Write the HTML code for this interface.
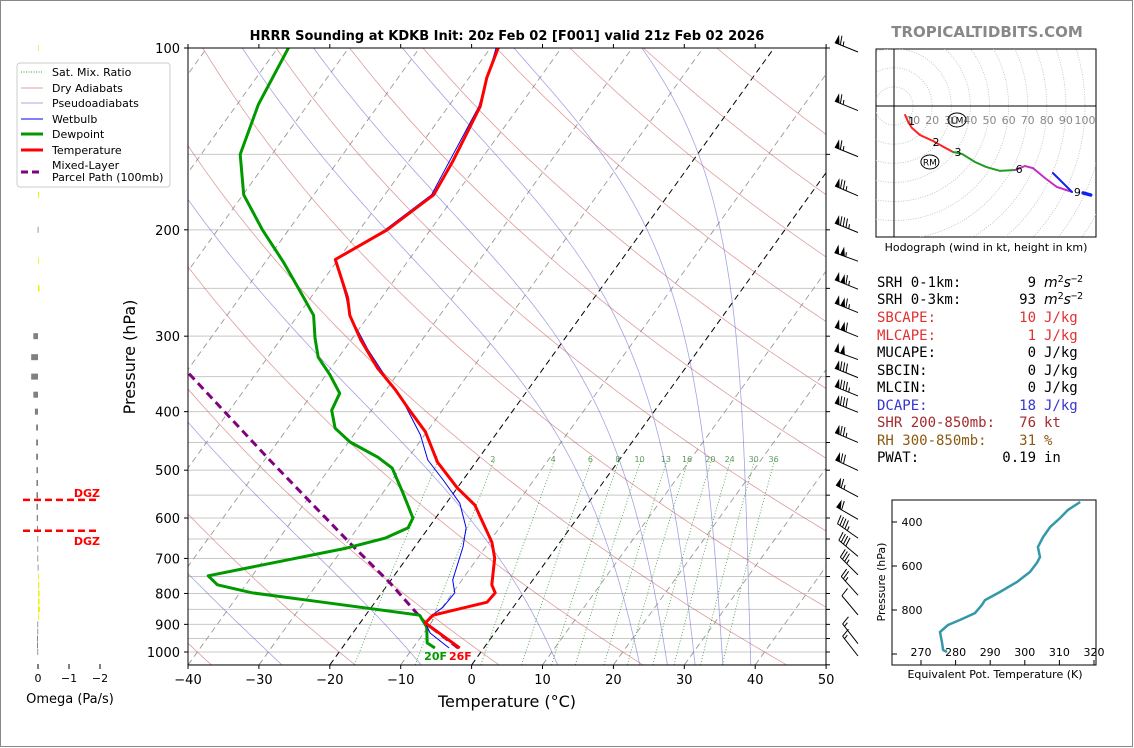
<!DOCTYPE html>
<html><head><meta charset="utf-8">
<style>
html,body{margin:0;padding:0;background:#fff;}
svg{display:block;font-family:"DejaVu Sans","Liberation Sans",sans-serif;}
.mono{font-family:"DejaVu Sans Mono","Liberation Mono",monospace;font-size:14px;}
</style></head>
<body>
<svg id="fig" width="1134" height="748" viewBox="0 0 1134 748" xmlns="http://www.w3.org/2000/svg">
<rect x="0.5" y="0.5" width="1132" height="746" fill="#fff" stroke="#888"/>
<defs>
<clipPath id="mainClip"><rect x="188" y="48" width="638" height="617"/></clipPath>
<clipPath id="hodoClip"><rect x="876" y="49" width="220" height="188"/></clipPath>
<clipPath id="theClip"><rect x="892" y="500" width="204" height="165"/></clipPath>
</defs>
<text x="507" y="40" text-anchor="middle" font-size="13" font-weight="bold">HRRR Sounding at KDKB Init: 20z Feb 02 [F001] valid 21z Feb 02 2026</text>
<text x="987" y="37" text-anchor="middle" font-size="15" font-weight="bold" fill="#888">TROPICALTIDBITS.COM</text>
<g id="bg" clip-path="url(#mainClip)"></g>
<g id="series" clip-path="url(#mainClip)"></g>
<rect x="188" y="48" width="638" height="617" fill="none" stroke="#000" stroke-width="1"/>
<g id="axes"></g>
<text x="0" y="0" transform="translate(135,357) rotate(-90)" text-anchor="middle" font-size="16">Pressure (hPa)</text>
<text x="507" y="707" text-anchor="middle" font-size="16">Temperature (°C)</text>
<text x="447" y="660" text-anchor="end" font-size="11" font-weight="bold" fill="#009900">20F</text>
<text x="449" y="660" font-size="11" font-weight="bold" fill="#ff0000">26F</text>
<g id="barbs"></g>
<g id="omega"></g>
<text x="70" y="703" text-anchor="middle" font-size="13">Omega (Pa/s)</text>
<g>
<rect x="17" y="63" width="153" height="124" rx="3" fill="#fff" stroke="#ccc"/>
<line x1="21" y1="72" x2="43" y2="72" stroke="#3a9a3a" stroke-dasharray="1,1.5"/>
<text x="52" y="76" font-size="11">Sat. Mix. Ratio</text>
<line x1="21" y1="88" x2="43" y2="88" stroke="#d9a3a3"/>
<text x="52" y="92" font-size="11">Dry Adiabats</text>
<line x1="21" y1="103" x2="43" y2="103" stroke="#a8a8dd"/>
<text x="52" y="107" font-size="11">Pseudoadiabats</text>
<line x1="21" y1="119" x2="43" y2="119" stroke="#0000ee"/>
<text x="52" y="123" font-size="11">Wetbulb</text>
<line x1="21" y1="134" x2="43" y2="134" stroke="#009900" stroke-width="3"/>
<text x="52" y="138" font-size="11">Dewpoint</text>
<line x1="21" y1="150" x2="43" y2="150" stroke="#ff0000" stroke-width="3"/>
<text x="52" y="154" font-size="11">Temperature</text>
<line x1="21" y1="172" x2="43" y2="172" stroke="#800080" stroke-width="3" stroke-dasharray="7,4"/>
<text x="52" y="169" font-size="11">Mixed-Layer</text>
<text x="52" y="181" font-size="11">Parcel Path (100mb)</text>
</g>
<g id="hodo"></g>
<text x="986" y="251" text-anchor="middle" font-size="11">Hodograph (wind in kt, height in km)</text>
<g class="mono">
<text x="877" y="287">SRH 0-1km:</text>
<text x="1036" y="287" text-anchor="end">9</text>
<text x="1044" y="287"><tspan font-style="italic" font-family="DejaVu Sans,sans-serif">m</tspan><tspan dy="-5" font-size="10">2</tspan><tspan dy="5" font-style="italic" font-family="DejaVu Sans,sans-serif">s</tspan><tspan dy="-5" font-size="10">−2</tspan></text>
<text x="877" y="304">SRH 0-3km:</text>
<text x="1036" y="304" text-anchor="end">93</text>
<text x="1044" y="304"><tspan font-style="italic" font-family="DejaVu Sans,sans-serif">m</tspan><tspan dy="-5" font-size="10">2</tspan><tspan dy="5" font-style="italic" font-family="DejaVu Sans,sans-serif">s</tspan><tspan dy="-5" font-size="10">−2</tspan></text>
<text x="877" y="322" fill="#e03030">SBCAPE:</text>
<text x="1036" y="322" text-anchor="end" fill="#e03030">10</text>
<text x="1044" y="322" fill="#e03030">J/kg</text>
<text x="877" y="340" fill="#e03030">MLCAPE:</text>
<text x="1036" y="340" text-anchor="end" fill="#e03030">1</text>
<text x="1044" y="340" fill="#e03030">J/kg</text>
<text x="877" y="357">MUCAPE:</text>
<text x="1036" y="357" text-anchor="end">0</text>
<text x="1044" y="357">J/kg</text>
<text x="877" y="375">SBCIN:</text>
<text x="1036" y="375" text-anchor="end">0</text>
<text x="1044" y="375">J/kg</text>
<text x="877" y="392">MLCIN:</text>
<text x="1036" y="392" text-anchor="end">0</text>
<text x="1044" y="392">J/kg</text>
<text x="877" y="410" fill="#3535d0">DCAPE:</text>
<text x="1036" y="410" text-anchor="end" fill="#3535d0">18</text>
<text x="1044" y="410" fill="#3535d0">J/kg</text>
<text x="877" y="427" fill="#a52a2a">SHR 200-850mb:</text>
<text x="1036" y="427" text-anchor="end" fill="#a52a2a">76</text>
<text x="1044" y="427" fill="#a52a2a">kt</text>
<text x="877" y="445" fill="#8b5a10">RH 300-850mb:</text>
<text x="1036" y="445" text-anchor="end" fill="#8b5a10">31</text>
<text x="1044" y="445" fill="#8b5a10">%</text>
<text x="877" y="462">PWAT:</text>
<text x="1036" y="462" text-anchor="end">0.19</text>
<text x="1044" y="462">in</text>
</g>
<g id="thetae"></g>
<text x="0" y="0" transform="translate(885,582) rotate(-90)" text-anchor="middle" font-size="11">Pressure (hPa)</text>
<text x="995" y="678" text-anchor="middle" font-size="11">Equivalent Pot. Temperature (K)</text>
</svg>
<script>
// ---- Sounding data ----
const tempP = [985,895,869,827,798,774,699,658,571,535,485,432,398,368,339,304,277,259,224,200,175,154,125,112,100];
const tempT = [-3.4,-10.8,-10.5,-4.2,-4.0,-5.3,-7.6,-9.6,-15.8,-20.0,-25.4,-30.2,-34.6,-38.7,-43.4,-48.7,-52.7,-54.8,-60.4,-56.1,-53.1,-53.8,-55.5,-57.5,-58.9];
const dewP = [985,966,909,869,827,798,774,748,673,648,623,600,546,496,476,449,426,398,373,348,325,302,277,252,226,200,175,150,124,100];
const dewT = [-6.9,-8.5,-10.2,-12.4,-27.4,-38.3,-44.0,-46.2,-29.5,-25.1,-22.9,-23.2,-27.1,-31.2,-34.3,-39.8,-43.3,-45.6,-46.2,-49.4,-52.9,-55.3,-57.8,-62.3,-67.5,-73.7,-79.9,-84.5,-87.0,-88.5];
const wbP = [985,930,895,875,843,798,760,670,623,567,519,481,437,390,360,316,277,259,224,200,175,125,100];
const wbT = [-4.9,-9.1,-10.8,-10.8,-9.9,-9.7,-11.3,-13.2,-14.7,-18.1,-22.8,-27.0,-30.6,-35.8,-40.0,-46.6,-52.7,-55.0,-60.4,-56.4,-53.4,-55.7,-59.2];
const parcelP = [985,895,769,668,481,344,300];
const parcelT = [-3.6,-10.8,-19.8,-28.8,-49.3,-69.8,-76.5];
// wind barbs
const barbP = [100,125,149,173,199,222,247,270,296,323,346,371,395,443,493,545,594,638,684,734,793,855,954,1000];
const barbSpd = [65,65,65,75,85,105,115,115,110,100,80,85,80,75,70,65,60,45,40,35,25,10,15,15];
const barbDir = [292,292,292,293,292,290,292,292,292,290,292,292,292,293,295,298,300,305,310,315,318,320,322,322];
// omega
const omegaP = [100,150,175,200,225,250,300,325,350,375,400,425,450,475,500,525,550,575,600,625,650,675,700,725,750,775,800,825,850,875,900,925,950,975,1000];
const omegaV = [-0.02,-0.02,-0.03,0.01,-0.02,-0.05,0.15,0.22,0.22,0.15,0.10,0.06,0.06,0.06,0.05,0.05,0.05,0.05,0.04,0.03,0.02,0.02,0.02,0.01,-0.03,-0.04,-0.05,-0.05,-0.06,-0.01,0.02,0.02,0.03,0.03,0.02];
const dgzP = [560,630];
// hodograph (kt)
const hodoRedU = [5.8,7.5,9.4,13.6,20.4,26.2,30.9];
const hodoRedV = [-4.7,-8.5,-11.5,-15.2,-18.3,-21.5,-24.1];
const hodoGreenU = [30.9,35.6,42.4,48.2,55.5,63.4];
const hodoGreenV = [-24.1,-25.1,-29.3,-31.9,-34.0,-33.5];
const hodoMagU = [63.4,68.6,72.8,79.0,85.3,93.2];
const hodoMagV = [-33.5,-31.4,-32.5,-37.7,-42.4,-45.0];
const hodoBlueU = [83.2,93.2];
const hodoBlueV = [-35.1,-45.0];
const hodoBlue2U = [99.0,103.0];
const hodoBlue2V = [-45.5,-46.6];
const hodoLabels = ["1","2","3","6","9"];
const hodoLabU = [9.2,22.0,33.5,65.5,96.0];
const hodoLabV = [-7.9,-18.8,-24.0,-33.0,-45.0];
const stormNames = ["LM","RM"];
const stormU = [33.0,18.8];
const stormV = [-7.3,-29.3];
// theta-e
const theP = [309,345,382,423,468,514,559,586,627,673,718,755,777,814,845,868,900,950,982,991];
const theV = [316.0,312.5,310.2,307.3,305.3,303.8,304.4,303.5,301.5,297.7,292.8,288.5,287.6,285.6,281.3,277.8,275.5,276.1,276.4,277.5];
// ticks
const pTicks = [100,200,300,400,500,600,700,800,900,1000];
const tTicks = [-40,-30,-20,-10,0,10,20,30,40,50];
const mixW = [1,2,4,6,8,10,13,16,20,24,30,36];
const mixShown = ["1","2","4","6","8","10","13","16","20","24","30","36"];
const dryTheta = [-60,-40,-20,0,20,40,60,80,100,120,140,160,180,200];
const moistTw = [-50,-30,-10,10,22,26,30,34,38];

const NS="http://www.w3.org/2000/svg";
function mk(tag,attrs,parent){const e=document.createElementNS(NS,tag);for(const k in attrs)e.setAttribute(k,attrs[k]);parent.appendChild(e);return e;}
const Y=p=>48+604*Math.log10(p/100);
const X=(T,p)=>188+(T+40)*7.09+(665-Y(p))*0.72;
const pathFrom=(pts)=>pts.map((q,i)=>(i?'L':'M')+q[0].toFixed(1)+','+q[1].toFixed(1)).join(' ');

const bg=document.getElementById('bg');
for(let p=100;p<=1050;p+=50){
  const l=mk('line',{x1:188,x2:826,y1:Y(p),y2:Y(p),stroke:'#c8c8c8','stroke-width':1},bg);
  
  
}
for(let t=-130;t<=50;t+=10){
  const hl=(t===0||t===-20);
  const l=mk('line',{x1:X(t,1050),y1:Y(1050),x2:X(t,100),y2:Y(100),stroke:hl?'#000':'#999','stroke-width':hl?1:0.9,'stroke-dasharray':'6,4'},bg);
  
  
}
dryTheta.forEach(t0=>{
  const pts=[];for(let p=1050;p>=100;p-=10){const T=(t0+273.15)*Math.pow(p/1000,0.2857)-273.15;pts.push([X(T,p),Y(p)]);}
  const l=mk('path',{d:pathFrom(pts),fill:'none',stroke:'rgba(205,90,90,0.6)','stroke-width':0.8},bg);
  
  
});
const Rd=287.04,cp=1005.7,Lv=2.501e6,eps=0.622;
const es=Tc=>6.112*Math.exp(17.67*Tc/(Tc+243.5));
const dTdp=(T,p)=>{const e=es(T-273.15);const rs=eps*e/Math.max(p-e,1);return (Rd*T+Lv*rs)/(cp+Lv*Lv*rs*eps/(Rd*T*T))/p;};
function integ(T0,p0,p1,h){const pts=[];let T=T0;for(let p=p0;(h<0?p>=p1:p<=p1);p+=h){pts.push([T,p]);const k1=dTdp(T,p);const k2=dTdp(T+h*k1,p+h);T+=h*(k1+k2)/2;}return pts;}
moistTw.forEach(t0=>{
  const up=integ(t0+273.15,1000,100,-5);
  const dn=integ(t0+273.15,1000,1050,5).reverse();
  const all=dn.concat(up.slice(1)).map(q=>[X(q[0]-273.15,q[1]),Y(q[1])]);
  const l=mk('path',{d:pathFrom(all),fill:'none',stroke:'rgba(90,90,205,0.55)','stroke-width':0.8},bg);
  
  
});
const tdFromE=e=>{const a=Math.log(e/6.112);return 243.5*a/(17.67-a);};
mixW.forEach((w,i)=>{
  const pts=[];for(let p=1050;p>=480;p-=10){const e=(w/1000)*p/(eps+w/1000);pts.push([X(tdFromE(e),p),Y(p)]);}
  const l=mk('path',{d:pathFrom(pts),fill:'none',stroke:'#3a9a3a','stroke-width':0.8,'stroke-dasharray':'1,2'},bg);
  
  
  if(mixShown[i]){const pl=488;const e=(w/1000)*pl/(eps+w/1000);
    const t=mk('text',{x:X(tdFromE(e),pl),y:Y(pl)-2,'text-anchor':'middle','font-size':8,fill:'#5a9a5a'},bg);t.textContent=mixShown[i];
    
    }
});
const ser=document.getElementById('series');
function line(Ps,Ts,attrs,name){
  const pts=Ps.map((p,i)=>[X(Ts[i],p),Y(p)]);
  const l=mk('path',Object.assign({d:pathFrom(pts),fill:'none','stroke-linejoin':'round'},attrs),ser);
  
  
}
line(parcelP,parcelT,{stroke:'#800080','stroke-width':3,'stroke-dasharray':'8,5'},'parcel-path-line');
line(dewP,dewT,{stroke:'#009900','stroke-width':3},'dewpoint-line');
line(wbP,wbT,{stroke:'#0000ee','stroke-width':1},'wetbulb-line');
line(tempP,tempT,{stroke:'#ff0000','stroke-width':3},'temperature-line');

const ax=document.getElementById('axes');
pTicks.forEach(p=>{
  const t1=mk('line',{x1:184,x2:188,y1:Y(p),y2:Y(p),stroke:'#000'},ax);
  
  
  const t=mk('text',{x:180,y:Y(p)+5,'text-anchor':'end','font-size':13},ax);t.textContent=p;
  
  
});
for(let p=100;p<=1050;p+=50){
  const t2=mk('line',{x1:826,x2:830,y1:Y(p),y2:Y(p),stroke:'#000'},ax);
  
  
}
tTicks.forEach(T=>{
  const x=188+(T+40)*7.09;
  const t1=mk('line',{x1:x,x2:x,y1:665,y2:669,stroke:'#000'},ax);
  
  
  const t=mk('text',{x:x,y:684,'text-anchor':'middle','font-size':13},ax);t.textContent=(T<0?'\u2212'+(-T):String(T));
  
  
  const t3=mk('line',{x1:x,x2:x,y1:44,y2:48,stroke:'#000'},ax);
  
  
});

const bgB=document.getElementById('barbs');
barbP.forEach((p,i)=>{
  const spd=barbSpd[i],dir=barbDir[i]*Math.PI/180;
  const sx=Math.sin(dir),sy=-Math.cos(dir);
  const x0=858,y0=Y(p)+4,L=25;
  const tx=x0+sx*L,ty=y0+sy*L;
  const nx=-sy,ny=sx;
  const g=mk('g',{},bgB);
  
  
  mk('line',{x1:x0,y1:y0,x2:tx,y2:ty,stroke:'#000','stroke-width':1},g);
  let s=Math.round(spd/5)*5;let pos=0;const bl=9;
  const sgn=(ny<0)?1:-1;
  const px=nx*sgn,py=ny*sgn;
  while(s>=50){const ax1=tx-sx*pos,ay1=ty-sy*pos,ax2=tx-sx*(pos+5),ay2=ty-sy*(pos+5);
    mk('polygon',{points:`${ax1},${ay1} ${ax2},${ay2} ${ax1+px*bl-sx*1},${ay1+py*bl-sy*1}`,fill:'#000'},g);pos+=6;s-=50;}
  while(s>=10){const ax1=tx-sx*pos,ay1=ty-sy*pos;
    mk('line',{x1:ax1,y1:ay1,x2:ax1+px*bl+sx*2,y2:ay1+py*bl+sy*2,stroke:'#000'},g);pos+=3;s-=10;}
  if(s>=5){if(pos===0)pos=3;const ax1=tx-sx*pos,ay1=ty-sy*pos;
    mk('line',{x1:ax1,y1:ay1,x2:ax1+px*bl*0.5+sx,y2:ay1+py*bl*0.5+sy,stroke:'#000'},g);}
});

const om=document.getElementById('omega');
const OX=v=>38-31*v;
omegaP.forEach((p,i)=>{
  const v=omegaV[i];const x1=Math.min(OX(0),OX(v)),w=Math.max(Math.abs(OX(v)-OX(0)),0.8);
  const r=mk('rect',{x:x1,y:Y(p)-3,width:w,height:6,fill:v<0?'#f0f000':'#808080'},om);
  
  
});
dgzP.forEach((p,i)=>{
  const l=mk('line',{x1:23,x2:99,y1:Y(p),y2:Y(p),stroke:'#ff0000','stroke-width':2.5,'stroke-dasharray':'7,4'},om);
  
  
  const t=mk('text',{x:100,y:i===0?Y(p)-3:Y(p)+14,'text-anchor':'end','font-size':11,'font-weight':'bold',fill:'#ff0000'},om);t.textContent='DGZ';
  
  
});
[0,-1,-2].forEach(v=>{
  const tk=mk('line',{x1:OX(v),x2:OX(v),y1:664,y2:669,stroke:'#000'},om);
  
  
  const t=mk('text',{x:OX(v),y:682,'text-anchor':'middle','font-size':11},om);t.textContent=v===0?'0':'\u2212'+(-v);
  
  
});

const hd=document.getElementById('hodo');
const HX=u=>894+1.91*u,HY=v=>106-1.91*v;
const hframe=mk('rect',{x:876,y:49,width:220,height:188,fill:'#fff',stroke:'#000'},hd);


const hc=mk('g',{'clip-path':'url(#hodoClip)'},hd);
for(let r=10;r<=140;r+=10){
  const c=mk('circle',{cx:HX(0),cy:HY(0),r:1.91*r,fill:'none',stroke:'#bbb','stroke-dasharray':'1,1.5','stroke-width':0.8},hc);
  
  
}
mk('line',{x1:876,x2:1096,y1:HY(0),y2:HY(0),stroke:'#000'},hc);
mk('line',{x1:HX(0),x2:HX(0),y1:49,y2:237,stroke:'#000'},hc);
for(let r=10;r<=100;r+=10){
  const t=mk('text',{x:HX(r),y:124,'text-anchor':'middle','font-size':11,fill:'#888'},hc);t.textContent=r;
  
  
}
function hline(U,V,col,w,name){
  const l=mk('path',{d:pathFrom(U.map((u,i)=>[HX(u),HY(V[i])])),fill:'none',stroke:col,'stroke-width':w,'stroke-linecap':'round'},hc);
  
  
}
hline(hodoRedU,hodoRedV,'#ff2020',2,'hodograph-0-3km');
hline(hodoGreenU,hodoGreenV,'#229922',2,'hodograph-3-6km');
hline(hodoMagU,hodoMagV,'#c030c0',2,'hodograph-6-9km');
hline(hodoBlueU,hodoBlueV,'#1020ee',2,'hodograph-9km-plus');
hline(hodoBlue2U,hodoBlue2V,'#1020ee',3.5,'hodograph-top');
hodoLabels.forEach((s,i)=>{
  const t=mk('text',{x:HX(hodoLabU[i]),y:HY(hodoLabV[i])+4,'text-anchor':'middle','font-size':11},hc);t.textContent=s;
  
  
});
stormNames.forEach((s,i)=>{
  const e=mk('ellipse',{cx:HX(stormU[i]),cy:HY(stormV[i]),rx:9,ry:7,fill:'none',stroke:'#000'},hc);
  
  
  const t=mk('text',{x:HX(stormU[i]),y:HY(stormV[i])+3.5,'text-anchor':'middle','font-size':9},hc);t.textContent=s;
  
  
});

const th=document.getElementById('thetae');
const TX=k=>921+(k-270)*3.46,TY=p=>522+(p-400)*0.22;
const tf=mk('rect',{x:892,y:500,width:204,height:165,fill:'#fff',stroke:'#000'},th);


const tg=mk('g',{'clip-path':'url(#theClip)'},th);
const tl=mk('path',{d:pathFrom(theP.map((p,i)=>[TX(theV[i]),TY(p)])),fill:'none',stroke:'#3399aa','stroke-width':2.5,'stroke-linejoin':'round'},tg);


[400,600,800,1000].forEach(p=>{
  mk('line',{x1:892,x2:897,y1:TY(p),y2:TY(p),stroke:'#000'},th);
  if(p<1000){const t=mk('text',{x:912,y:TY(p)+4,'text-anchor':'middle','font-size':11},th);t.textContent=p;
  
  }
});
[270,280,290,300,310,320].forEach(k=>{
  mk('line',{x1:TX(k),x2:TX(k),y1:660,y2:665,stroke:'#000'},th);
  const t=mk('text',{x:TX(k),y:656,'text-anchor':'middle','font-size':11},th);t.textContent=k;
  
  
});
</script>
</body></html>
